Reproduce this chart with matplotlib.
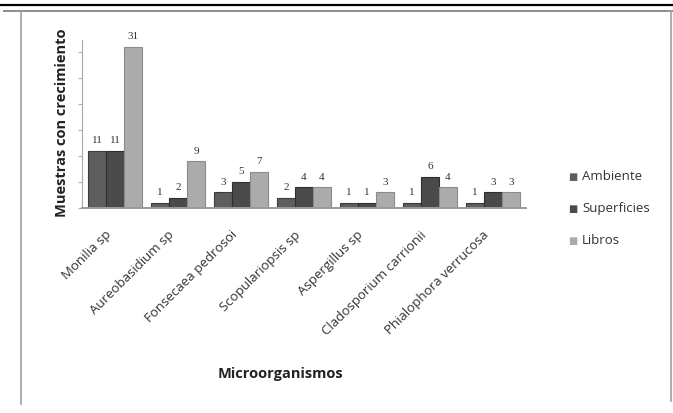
import matplotlib.pyplot as plt
import numpy as np
from matplotlib.lines import Line2D

organismos = ['Monilia sp', 'Aureobasidium sp', 'Fonsecaea pedrosoi', 'Scopulariopsis sp',
              'Aspergillus sp', 'Cladosporium carrionii', 'Phialophora verrucosa']
ambiente = [11, 1, 3, 2, 1, 1, 1]
superficies = [11, 2, 5, 4, 1, 6, 3]
libros = [31, 9, 7, 4, 3, 4, 3]

series = ['Ambiente', 'Superficies', 'Libros']
colores = ['#5e5e5e', '#4a4a4a', '#ababab']
bordes = ['#3c3c3c', '#2e2e2e', '#8a8a8a']

W, H = 673, 413
fig = plt.figure(figsize=(W / 100, H / 100), dpi=100)
fig.patch.set_facecolor('white')

# marco de la figura
fig.add_artist(Line2D([0, 1], [1 - 5 / H, 1 - 5 / H], color='black', lw=1.6))
fig.add_artist(Line2D([4 / W, 1], [1 - 11 / H, 1 - 11 / H], color='#8c8c8c', lw=1.4))
fig.add_artist(Line2D([21 / W, 21 / W], [1 - 11 / H, 1 - 404 / H], color='#a0a0a0', lw=1.2))
fig.add_artist(Line2D([671 / W, 671 / W], [1 - 11 / H, 1 - 401 / H], color='#a0a0a0', lw=1.2))

ax = fig.add_axes([82 / W, 1 - 208 / H, 444 / W, 168 / H])
x = np.arange(len(organismos))
w = 0.286

for j, (datos, c, b) in enumerate(zip([ambiente, superficies, libros], colores, bordes)):
    pos = x + (j - 1) * w
    ax.bar(pos, datos, width=w, color=c, edgecolor=b, linewidth=0.8, label=series[j])
    for xi, v in zip(pos, datos):
        ax.annotate(str(v), (xi, v), xytext=(0, 4), textcoords='offset points',
                    ha='center', va='bottom', fontsize=8, family='Liberation Serif', color='#333333')

ax.set_xlim(-0.524, 6.524)
ax.set_ylim(0, 32.35)
ax.set_yticks(range(0, 31, 5))
ax.tick_params(axis='y', length=3, color='#b0b0b0', labelleft=False)
ax.tick_params(axis='x', length=0, pad=18)
for s in ['top', 'right']:
    ax.spines[s].set_visible(False)
ax.spines['left'].set_color('#a8a8a8')
ax.spines['bottom'].set_color('#9a9a9a')
ax.spines['bottom'].set_linewidth(1.4)

ax.set_xticks(x - 0.095)
ax.set_xticklabels(organismos, rotation=45, ha='right', va='center', rotation_mode='anchor',
                   fontsize=9.5, family='Open Sans', color='#333333')

fig.text(62 / W, 1 - 123 / H, 'Muestras con crecimiento', rotation=90, ha='center', va='center',
         fontsize=10.5, fontweight='bold', family='Open Sans', color='#222222')
fig.text(280 / W, 1 - 374 / H, 'Microorganismos', ha='center', va='center',
         fontsize=10.5, fontweight='bold', family='Open Sans', color='#222222')

# leyenda
for k, (nombre, c) in enumerate(zip(series, colores)):
    yy = 1 - (177 + 32 * k) / H
    fig.text(573 / W, yy, '\u25a0', ha='center', va='center', fontsize=7, color=c)
    fig.text(582 / W, yy, nombre, ha='left', va='center', fontsize=9.5, family='Open Sans', color='#333333')

fig.savefig('out.png', dpi=100)
